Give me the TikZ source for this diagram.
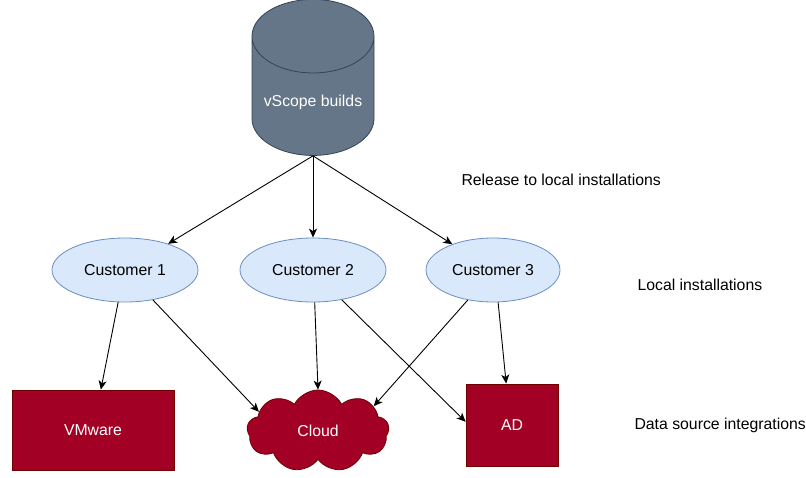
\documentclass[tikz,border=0pt]{standalone}
\usepackage{fontspec}
\setmainfont{Liberation Sans}
\usetikzlibrary{arrows.meta,shapes.geometric,shapes.symbols}

\definecolor{dbfill}{HTML}{647687}
\definecolor{dbline}{HTML}{314354}
\definecolor{custfill}{HTML}{DAE8FC}
\definecolor{custline}{HTML}{6C8EBF}
\definecolor{srcfill}{HTML}{A20025}
\definecolor{srcline}{HTML}{6F0000}

\begin{document}
\begin{tikzpicture}[x=1pt,y=-1pt,
    font=\fontsize{15.8}{19}\selectfont,
    link/.style={-{Stealth[length=9pt,width=8pt,inset=2.5pt]},line width=0.9pt},
    customer/.style={ellipse,draw=custline,fill=custfill,line width=0.8pt,
        minimum width=146pt,minimum height=64pt},
    source/.style={rectangle,draw=srcline,fill=srcfill,text=white,line width=0.8pt},
    note/.style={anchor=west}]
    \useasboundingbox (0,0) rectangle (806,477);

    \node[cylinder,shape border rotate=90,aspect=0.7,draw=dbline,fill=dbfill,
        text=white,line width=0.8pt,minimum width=122pt,minimum height=156pt]
        (db) at (313,102) {vScope builds};

    \node[customer] (c1) at (125,270) {Customer 1};
    \node[customer] (c2) at (313,270) {Customer 2};
    \node[customer,minimum width=134pt] (c3) at (493,270) {Customer 3};

    \node[source,minimum width=162pt,minimum height=80pt] (vm) at (93,430) {VMware};
    \node[cloud,cloud puffs=9,cloud puff arc=125,draw=srcline,fill=srcfill,text=white,
        line width=0.8pt,minimum width=142pt,minimum height=82pt] (cloud) at (318,431) {Cloud};
    \node[source,minimum width=92pt,minimum height=82pt] (ad) at (512,425) {AD};

    % release arrows
    \draw[link] (db.south) -- (c1);
    \draw[link] (db.south) -- (c2);
    \draw[link] (db.south) -- (c3);

    % integrations
    \draw[link] (c1.258) -- (vm.79);
    \draw[link] (c1.313) -- (cloud.162);
    \draw[link] (c2.273) -- (cloud.north);
    \draw[link] (c2.314) -- (ad.176);
    \draw[link] (c3.230) -- (cloud.24);
    \draw[link] (c3.279) -- (ad.98);

    \node[note] (rel) at (458,180) {Release to local installations};
    \node[note] (loc) at (634,285) {Local installations};
    \node[note] (dsi) at (631,425) {Data source integrations};
\end{tikzpicture}
\end{document}
